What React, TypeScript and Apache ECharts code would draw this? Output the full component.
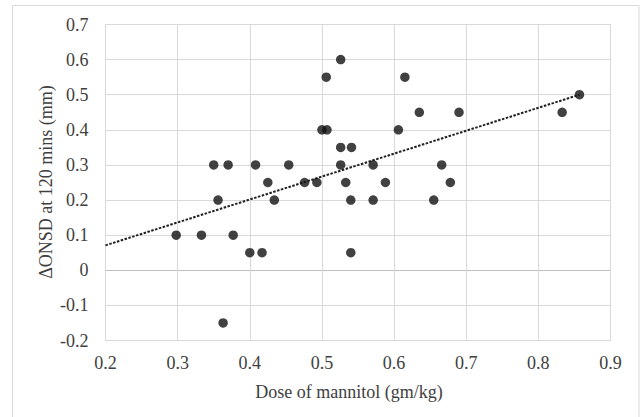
import React, { useEffect, useRef } from "react";
import * as echarts from "echarts";

const doseX = [
  0.526, 0.506, 0.615, 0.857, 0.635, 0.69, 0.833, 0.5, 0.507, 0.606, 0.526, 0.541,
  0.35, 0.37, 0.408, 0.454, 0.526, 0.571, 0.666, 0.425, 0.476, 0.493, 0.533, 0.588,
  0.678, 0.356, 0.434, 0.54, 0.571, 0.655, 0.298, 0.333, 0.377, 0.4, 0.417, 0.54, 0.363,
];
const onsdY = [
  0.6, 0.55, 0.55, 0.5, 0.45, 0.45, 0.45, 0.4, 0.4, 0.4, 0.35, 0.35,
  0.3, 0.3, 0.3, 0.3, 0.3, 0.3, 0.3, 0.25, 0.25, 0.25, 0.25, 0.25,
  0.25, 0.2, 0.2, 0.2, 0.2, 0.2, 0.1, 0.1, 0.1, 0.05, 0.05, 0.05, -0.15,
];
const trendX = [0.2, 0.857];
const trendY = [0.071, 0.5];

const xTitle = "Dose of mannitol (gm/kg)";
const yTitle = "ΔONSD at 120 mins (mm)";

const FONT = "Liberation Serif";

export default function App() {
  const ref = useRef<HTMLDivElement>(null);
  useEffect(() => {
    if (!ref.current) return;
    const chart = echarts.init(ref.current, undefined, { renderer: "svg" });
    const points = doseX.map((x, i) => [x, onsdY[i]]);
    const trend = trendX.map((x, i) => [x, trendY[i]]);
    const gridColors = [
      "#d9d9d9", "#d9d9d9", "#bfbfbf", "#d9d9d9", "#d9d9d9",
      "#d9d9d9", "#d9d9d9", "#d9d9d9", "#d9d9d9", "#d9d9d9",
    ];
    chart.setOption({
      animation: false,
      backgroundColor: "#ffffff",
      textStyle: { fontFamily: FONT },
      grid: {
        left: 105.5,
        top: 24.5,
        width: 505,
        height: 316,
        show: true,
        borderColor: "#d9d9d9",
        borderWidth: 1,
      },
      xAxis: {
        type: "value",
        min: 0.2,
        max: 0.9,
        interval: 0.1,
        axisLine: { show: false },
        axisTick: { show: false },
        axisLabel: {
          fontFamily: FONT,
          fontSize: 18,
          color: "#404040",
          margin: 13,
          formatter: (v: number) => String(Math.round(v * 10) / 10),
        },
        splitLine: { show: true, lineStyle: { color: "#d9d9d9", width: 1 } },
      },
      yAxis: {
        type: "value",
        min: -0.2,
        max: 0.7,
        interval: 0.1,
        axisLine: { show: false },
        axisTick: { show: false },
        axisLabel: {
          fontFamily: FONT,
          fontSize: 18,
          color: "#404040",
          margin: 17,
          formatter: (v: number) => String(Math.round(v * 10) / 10),
        },
        splitLine: { show: true, lineStyle: { color: gridColors, width: 1 } },
      },
      graphic: [
        {
          type: "rect",
          shape: { x: 12.5, y: 5.5, width: 626.5, height: 420 },
          style: { fill: "none", stroke: "#d9d9d9", lineWidth: 1 },
          silent: true,
          z: -1,
        },
        {
          type: "text",
          x: 349,
          y: 392,
          style: {
            text: xTitle,
            fontFamily: FONT,
            fontSize: 18,
            fill: "#404040",
            align: "center",
            verticalAlign: "middle",
          },
        },
        {
          type: "text",
          x: 46,
          y: 182,
          rotation: Math.PI / 2,
          style: {
            text: yTitle,
            fontFamily: FONT,
            fontSize: 18,
            fill: "#404040",
            align: "center",
            verticalAlign: "middle",
          },
        },
      ],
      series: [
        {
          type: "line",
          data: trend,
          showSymbol: false,
          symbol: "none",
          lineStyle: { color: "#1f1f1f", width: 2, type: [2.5, 1.5] },
          z: 2,
        },
        {
          type: "scatter",
          data: points,
          symbol: "circle",
          symbolSize: 9.5,
          itemStyle: { color: "#111111" },
          z: 3,
        },
      ],
    });
    return () => chart.dispose();
  }, []);
  return (
    <div
      ref={ref}
      style={{ position: "fixed", left: 0, top: 0, width: 641, height: 417 }}
    />
  );
}
